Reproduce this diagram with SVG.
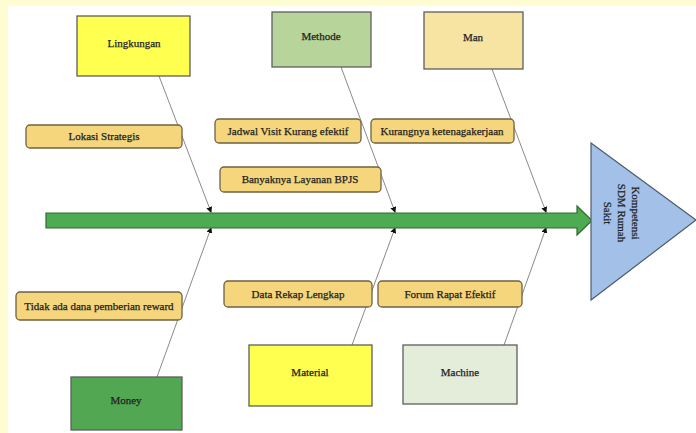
<svg xmlns="http://www.w3.org/2000/svg" width="696" height="433" viewBox="0 0 696 433">
<style>
text{font-family:"Liberation Serif","Times New Roman",serif;font-size:11px;fill:#222;stroke:#222;stroke-width:0.25;text-anchor:middle}
.cat{stroke:#5e5e5e;stroke-width:1.3}
.lbl{fill:#f5d67c;stroke:#6e6242;stroke-width:1.3}
.bone{stroke:#8a8a8a;stroke-width:1;fill:none;marker-end:url(#ah)}
</style>
<defs>
<marker id="ah" markerWidth="6" markerHeight="6" refX="5" refY="3" orient="auto" markerUnits="userSpaceOnUse">
<path d="M0,0 L6,3 L0,6 Z" fill="#111"/>
</marker>
</defs>
<rect x="0" y="0" width="696" height="433" fill="#fffcd2"/>
<rect x="8" y="6" width="688" height="427" fill="#ffffff"/>

<g id="connectors">
<line class="bone" x1="159" y1="76" x2="211" y2="212"/>
<line class="bone" x1="341" y1="67" x2="395" y2="212"/>
<line class="bone" x1="492" y1="69" x2="546" y2="212"/>
<line class="bone" x1="157" y1="377" x2="211" y2="228"/>
<line class="bone" x1="352" y1="345" x2="395" y2="228"/>
<line class="bone" x1="504" y1="345" x2="546" y2="228"/>
</g>

<g id="spine">
<path d="M46,213 L577,213 L577,206 L592,220.5 L577,235 L577,228 L46,228 Z" fill="#4dab52" stroke="#2f6b31" stroke-width="1.2"/>
</g>

<g id="effect">
<path d="M591,143 L696,220 L591,300 Z" fill="#a3c1e8" stroke="#4d5a6a" stroke-width="1.2"/>
<g transform="translate(622,213) rotate(90)">
<text x="0" y="-10">Kompetensi</text>
<text x="0" y="4">SDM Rumah</text>
<text x="0" y="18">Sakit</text>
</g>
</g>

<g id="lingkungan"><rect class="cat" x="77" y="16" width="113" height="60" fill="#ffff4f"/><text x="134" y="47">Lingkungan</text></g>
<g id="methode"><rect class="cat" x="272" y="12" width="99" height="55" fill="#b7d49b"/><text x="321" y="40">Methode</text></g>
<g id="man"><rect class="cat" x="424" y="12" width="99" height="57" fill="#f7e3a2"/><text x="473" y="41">Man</text></g>
<g id="money"><rect class="cat" x="71" y="377" width="111" height="53" fill="#52a852"/><text x="126" y="404">Money</text></g>
<g id="material"><rect class="cat" x="249" y="345" width="123" height="61" fill="#ffff4f"/><text x="310" y="376">Material</text></g>
<g id="machine"><rect class="cat" x="403" y="345" width="114" height="59" fill="#e4edda"/><text x="460" y="376">Machine</text></g>

<g id="lokasi"><rect class="lbl" x="26" y="125" width="156" height="23" rx="4"/><text x="104" y="140">Lokasi Strategis</text></g>
<g id="jadwal"><rect class="lbl" x="215" y="119" width="146" height="24" rx="4"/><text x="288" y="135">Jadwal Visit Kurang efektif</text></g>
<g id="kurangnya"><rect class="lbl" x="371" y="119" width="143" height="24" rx="4"/><text x="442" y="135">Kurangnya ketenagakerjaan</text></g>
<g id="banyaknya"><rect class="lbl" x="220" y="167" width="161" height="25" rx="4"/><text x="300" y="183">Banyaknya Layanan BPJS</text></g>
<g id="tidak"><rect class="lbl" x="16" y="292" width="166" height="28" rx="4"/><text x="99" y="310">Tidak ada dana pemberian reward</text></g>
<g id="datarekap"><rect class="lbl" x="224" y="281" width="148" height="26" rx="4"/><text x="298" y="298">Data Rekap Lengkap</text></g>
<g id="forum"><rect class="lbl" x="378" y="281" width="144" height="26" rx="4"/><text x="450" y="298">Forum Rapat Efektif</text></g>
</svg>
